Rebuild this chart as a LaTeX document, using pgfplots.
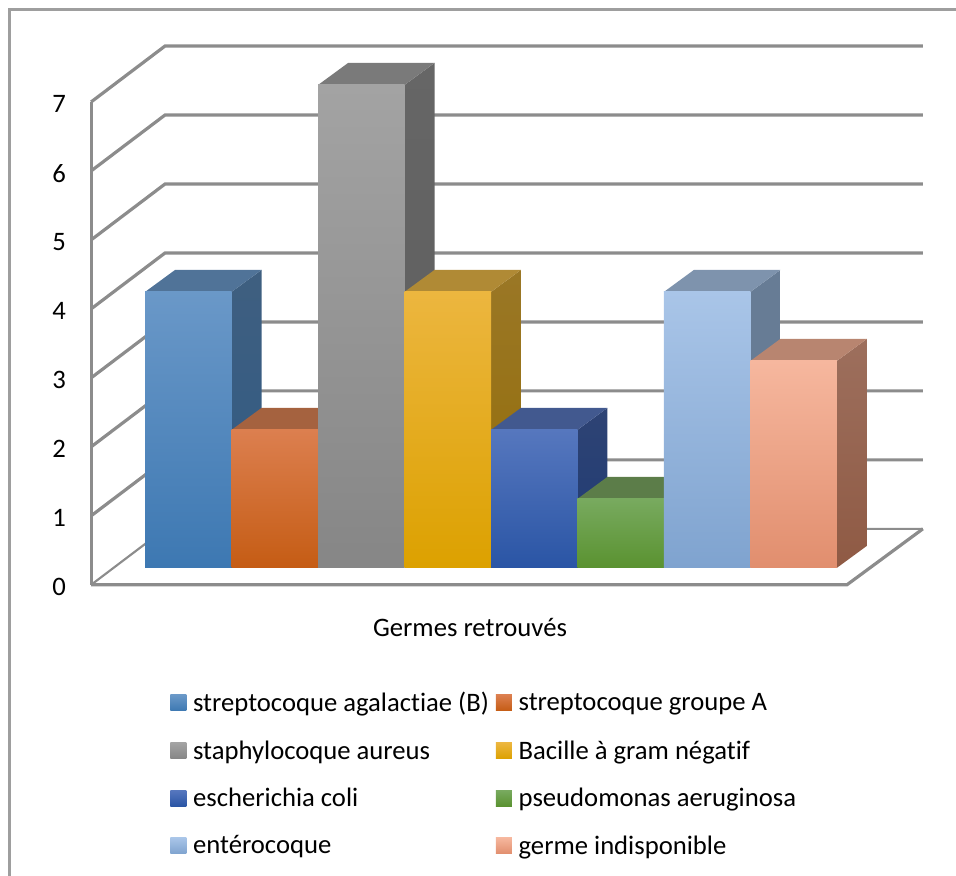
\documentclass[border=0pt]{standalone}
\usepackage{pgfplots}
\pgfplotsset{compat=1.18}
\usepackage{fontspec}
\setmainfont{Carlito}[Ligatures=NoCommon]

% One bar: x start, value, legend text, front top/middle/bottom, top face, side top/bottom
\newcommand\threedbar[9]{%
  \pgfmathsetmacro\xa{#1}%
  \pgfmathsetmacro\xb{#1+1}%
  \pgfmathsetmacro\xc{#1+0.3468}%
  \pgfmathsetmacro\xd{#1+1.3468}%
  \pgfmathsetmacro\yt{#2}%
  \pgfmathsetmacro\yu{#2+0.3188}%
  \pgfmathsetmacro\ybz{0.3188}%
  \definecolor{sideA#1}{HTML}{#8}\definecolor{sideB#1}{HTML}{#9}%
  \addplot[forget plot,draw=none,shade,top color=sideA#1,bottom color=sideB#1]
    coordinates {(\xb,0) (\xb,\yt) (\xd,\yu) (\xd,\ybz) (\xb,0)};
  \definecolor{topF#1}{HTML}{#7}%
  \addplot[forget plot,draw=none,fill=topF#1]
    coordinates {(\xa,\yt) (\xc,\yu) (\xd,\yu) (\xb,\yt) (\xa,\yt)};
  \definecolor{frontT#1}{HTML}{#4}\definecolor{frontM#1}{HTML}{#5}\definecolor{frontB#1}{HTML}{#6}%
  \addplot[draw=none,shade,top color=frontT#1,middle color=frontM#1,bottom color=frontB#1]
    coordinates {(\xa,0) (\xa,\yt) (\xb,\yt) (\xb,0) (\xa,0)};
  \addlegendentry{#3}
}

\begin{document}
\begin{tikzpicture}
\begin{axis}[
  scale only axis,
  width=717pt, height=657pt,
  xmin=-1.6763, xmax=9.3757,
  ymin=-4.4638, ymax=8.2319,
  axis line style={draw=none},
  major tick length=0pt,
  xtick=\empty,
  ytick={0,1,2,3,4,5,6,7},
  /pgf/number format/assume math mode=true,
  yticklabel style={font=\fontsize{20}{22}\selectfont,anchor=east,xshift=49.5pt,yshift=-14.5pt,inner sep=0pt},
  xlabel={Germes retrouvés},
  every axis x label/.style={at={(axis cs:3.757,-0.87)},anchor=center,font=\fontsize{20}{22}\selectfont},
  legend columns=2,
  legend cell align=left,
  legend style={
    at={(axis cs:0.29,-1.758)},anchor=north west,
    draw=none,fill=none,inner sep=0pt,
    font=\fontsize{20}{22}\selectfont,
    /tikz/every even column/.append style={column sep=3.3pt},
    row sep=16.25pt,
  },
  legend image code/.code={
    \path[#1] (0pt,-6pt) rectangle (12pt,6pt);
    \path (0pt,0pt) -- (15pt,0pt);
  },
]
% chart area border
\addplot[forget plot,color=black!38,line width=2.4pt] coordinates {(-1.5723,-4.5) (-1.5723,8.094) (9.5,8.094)};

% walls and floor
\pgfplotsset{wall/.style={forget plot,color=black!45,line width=2.4pt}}
\addplot[wall] coordinates {(-0.6243,-0.2464) (-0.6243,6.7536)};
\addplot[wall] coordinates {(-0.6243,-0.2464) (8.1156,-0.2464) (8.9942,0.5652)};
\addplot[wall,line width=1.6pt] coordinates {(-0.6243,-0.2464) (0.2312,0.5652) (8.9942,0.5652)};
\addplot[wall] coordinates {(-0.6243,0.7536) (0.2312,1.5652) (8.9942,1.5652)};
\addplot[wall] coordinates {(-0.6243,1.7536) (0.2312,2.5652) (8.9942,2.5652)};
\addplot[wall] coordinates {(-0.6243,2.7536) (0.2312,3.5652) (8.9942,3.5652)};
\addplot[wall] coordinates {(-0.6243,3.7536) (0.2312,4.5652) (8.9942,4.5652)};
\addplot[wall] coordinates {(-0.6243,4.7536) (0.2312,5.5652) (8.9942,5.5652)};
\addplot[wall] coordinates {(-0.6243,5.7536) (0.2312,6.5652) (8.9942,6.5652)};
\addplot[wall] coordinates {(-0.6243,6.7536) (0.2312,7.5652) (8.9942,7.5652)};

% bars
\threedbar{0}{4}{streptocoque agalactiae (B)}{6A98C8}{4A8AC4}{3D78B2}{507398}{3F5F80}{2F5A85}
\threedbar{1}{2}{streptocoque groupe A}{DC7F4F}{DD6B1F}{C55C14}{A5623F}{8F4F28}{7F4518}
\threedbar{2}{7}{staphylocoque aureus}{A3A3A3}{959595}{868686}{7A7A7A}{666666}{5C5C5C}
\threedbar{3}{4}{Bacille à gram négatif}{ECB63F}{EFB000}{DCA100}{B08A35}{9A7726}{946D06}
\threedbar{4}{2}{escherichia coli}{5677BE}{2F5DB0}{2A55A5}{42598F}{2E4374}{1F3B75}
\threedbar{5}{1}{pseudomonas aeruginosa}{78AA5F}{66A235}{5A9230}{5C7D49}{4F7532}{436A28}
\threedbar{6}{4}{entérocoque}{A9C5E8}{94B5E0}{7FA3CF}{7E93AD}{677C95}{677C95}
\threedbar{7}{3}{germe indisponible}{F6B79E}{F6A889}{E18E6E}{B88570}{9D6F5D}{8F5A44}
\end{axis}
\end{tikzpicture}
\end{document}
